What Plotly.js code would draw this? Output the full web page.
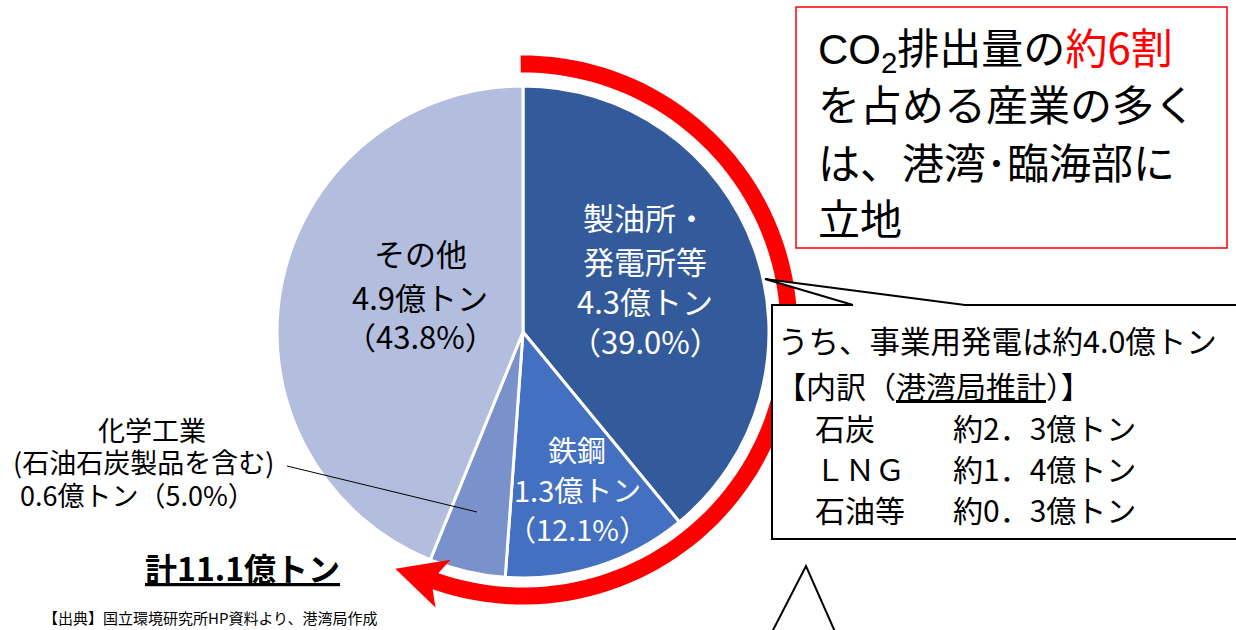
<!DOCTYPE html>
<html><head><meta charset="utf-8">
<script src="https://cdn.plot.ly/plotly-3.0.1.min.js"></script>
<style>html,body{margin:0;padding:0;background:#fff}#chart{width:1236px;height:630px}</style>
</head><body><div id="chart"></div>
<script>
// ---- data ----
const categories = ['製油所・発電所等', '鉄鋼', '化学工業', 'その他'];
const nameLines = [['製油所・', '発電所等'], ['鉄鋼'], ['化学工業', '(石油石炭製品を含む)'], ['その他']];
const amounts = [4.3, 1.3, 0.6, 4.9];      // 億トン
const shares = [39.0, 12.1, 5.0, 43.8];    // %
const totalAmount = 11.1;                  // 億トン
const powerTotal = 4.0;                    // 事業用発電 億トン
const powerFuels = ['石炭', 'ＬＮＧ', '石油等'];
const powerAmounts = [2.3, 1.4, 0.3];
const titleLines = ['<span style="font-family:Liberation Sans, Arial, sans-serif">CO<sub>2</sub></span>排出量の<span style="color:#FF0000">約6割</span>',
  'を占める産業の多く', 'は、港湾･臨海部に', '立地'];
const sourceNote = '【出典】国立環境研究所HP資料より、港湾局作成';

// ---- style ----
const W = 1236, H = 630;
const FONT = '"Noto Sans CJK JP", "Noto Sans", sans-serif';
const sliceColors = ['#335A9A', '#4370C0', '#7A92CC', '#B3BEDF'];
const cx = 523, cy = 332, R = 246;
const X = px => px / W, Y = py => 1 - py / H;

function path(pts, close) {
  return pts.map((p, i) => (i ? 'L' : 'M') + X(p[0]).toFixed(5) + ',' + Y(p[1]).toFixed(5)).join(' ') + (close ? ' Z' : '');
}
function txt(x, y, text, size, opts) {
  return Object.assign({xref: 'paper', yref: 'paper', x: X(x), y: Y(y), text: text, showarrow: false,
    font: {family: FONT, size: size, color: '#000'}, xanchor: 'center', yanchor: 'middle'}, opts || {});
}

const pie = {
  type: 'pie', values: shares, labels: categories, sort: false, direction: 'clockwise', rotation: 0,
  marker: {colors: sliceColors, line: {color: '#FFFFFF', width: 3}},
  textinfo: 'none', hoverinfo: 'label+percent', showlegend: false,
  domain: {x: [X(cx - R), X(cx + R)], y: [Y(cy + R), Y(cy - R)]}
};

// ---- slice labels ----
const fmtPct = p => '（' + p.toFixed(1) + '%）';
const labelPos = [
  {x: [645], ys: [216, 260, 300, 340], size: 31, color: '#FFFFFF'},
  {x: [577], ys: [449, 489, 528], size: 29, color: '#FFFFFF'},
  {x: [152, 143, 137], ys: [429, 462, 494], size: 27, color: '#000000'},
  {x: [420], ys: [252, 296, 335], size: 31, color: '#000000'}
];
const annotations = [];
categories.forEach((c, i) => {
  let lines;
  if (i === 2) lines = nameLines[i].concat([amounts[i].toFixed(1) + '億トン' + fmtPct(shares[i])]);
  else lines = nameLines[i].concat([amounts[i].toFixed(1) + '億トン', fmtPct(shares[i])]);
  const lp = labelPos[i];
  lines.forEach((t, j) => {
    const a = txt(lp.x[Math.min(j, lp.x.length - 1)], lp.ys[j], t, lp.size);
    a.font.color = lp.color;
    annotations.push(a);
  });
});

// total & source
annotations.push(txt(242, 567, '<b><u>計' + totalAmount.toFixed(1) + '億トン</u></b>', 32));
annotations.push(txt(41, 617, sourceNote, 15, {xanchor: 'left'}));

// title box text
[47, 103, 160, 216].forEach((y, i) => annotations.push(txt(816, y, titleLines[i], 42, {xanchor: 'left'})));

// callout text
annotations.push(txt(776, 340, 'うち、事業用発電は約' + powerTotal.toFixed(1) + '億トン', 30.5, {xanchor: 'left'}));
annotations.push(txt(774, 385, '【内訳（<u>港湾局推計</u>）】', 30, {xanchor: 'left'}));
const fuelYs = [427, 468, 509];
powerFuels.forEach((f, i) => {
  annotations.push(txt(813, fuelYs[i], f, 30, {xanchor: 'left'}));
  annotations.push(txt(951, fuelYs[i], '約' + powerAmounts[i].toFixed(1).replace('.', '．') + '億トン', 30, {xanchor: 'left'}));
});

// ---- shapes ----
const shapes = [];
// red circular arrow
(function () {
  const acx = 523, acy = 330, ar = 266, half = 8.5;
  const thB = 197.5 * Math.PI / 180;              // back of arrowhead
  const thE = thB + 8 / ar;                       // end of shaft (notch)
  const pt = (th, r) => [acx + r * Math.sin(th), acy - r * Math.cos(th)];
  const outer = [], inner = [];
  const th0 = -0.5 * Math.PI / 180;
  const n = 90;
  for (let k = 0; k <= n; k++) {
    const th = th0 + (thE - th0) * k / n;
    outer.push(pt(th, ar + half));
    inner.push(pt(th, ar - half));
  }
  const P = pt(thB, ar);
  const T = [Math.cos(thB), Math.sin(thB)];
  const N = [Math.sin(thB), -Math.cos(thB)];
  const backOut = [P[0] + 25 * N[0], P[1] + 25 * N[1]];
  const backIn = [P[0] - 25 * N[0], P[1] - 25 * N[1]];
  const tip = [P[0] + 50 * T[0], P[1] + 50 * T[1]];
  const pts = outer.concat([backOut, tip, backIn]).concat(inner.reverse());
  shapes.push({type: 'path', xref: 'paper', yref: 'paper', path: path(pts, true),
    fillcolor: '#FF0000', line: {width: 0}});
})();
// chemical leader line
shapes.push({type: 'line', xref: 'paper', yref: 'paper', x0: X(287), y0: Y(466), x1: X(477), y1: Y(512),
  line: {color: '#000', width: 1}});
// title box
shapes.push({type: 'rect', xref: 'paper', yref: 'paper', x0: X(796), y0: Y(248), x1: X(1227), y1: Y(7),
  line: {color: '#FF0000', width: 1.5}, fillcolor: 'rgba(0,0,0,0)'});
// callout box with pointer
shapes.push({type: 'path', xref: 'paper', yref: 'paper',
  path: path([[772, 305], [853, 305], [765, 279], [965, 305], [1245, 305], [1245, 539], [772, 539]], true),
  fillcolor: '#FFFFFF', line: {color: '#000', width: 2}});
// bottom triangle (partially visible)
shapes.push({type: 'path', xref: 'paper', yref: 'paper',
  path: path([[771, 634], [806, 566], [836, 634]], false),
  fillcolor: 'rgba(0,0,0,0)', line: {color: '#000', width: 2}});

const layout = {
  width: W, height: H, margin: {l: 0, r: 0, t: 0, b: 0},
  paper_bgcolor: '#FFFFFF', plot_bgcolor: '#FFFFFF', showlegend: false,
  font: {family: FONT}, annotations: annotations, shapes: shapes
};
Plotly.newPlot('chart', [pie], layout, {displayModeBar: false, staticPlot: true});
</script></body></html>
